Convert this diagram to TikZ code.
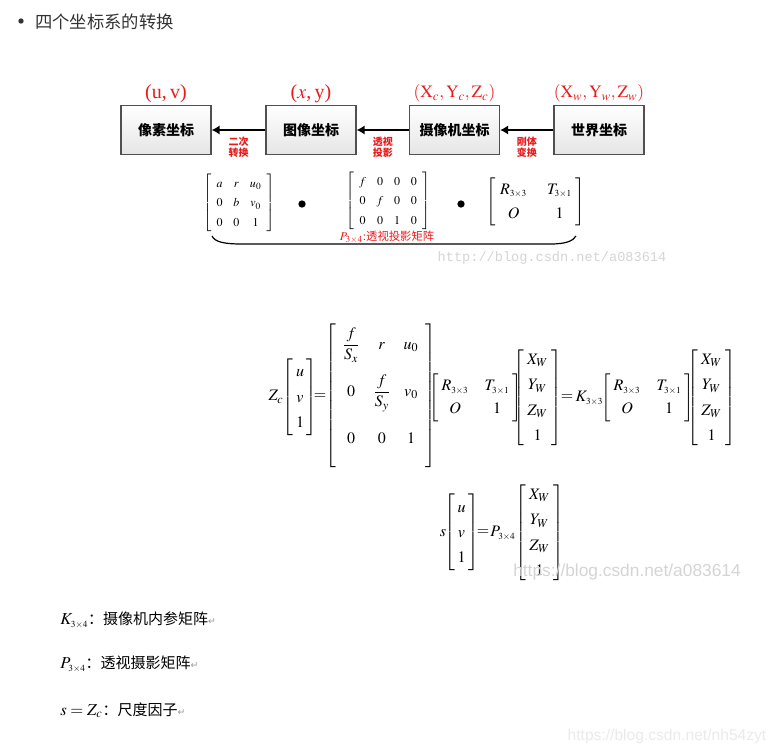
\documentclass[tikz,border=0pt]{standalone}
\usepackage{amsmath}
\usepackage{mathptmx}
\usepackage{fontspec}
\setmainfont{Liberation Serif}
\newfontfamily\cjk{Noto Sans CJK SC}
\newfontfamily\websans{Liberation Sans}
\newfontfamily\webmono{Liberation Mono}
\newfontfamily\symfont{DejaVu Sans}
\usetikzlibrary{positioning,arrows.meta}

\definecolor{boxline}{RGB}{80,80,80}
\definecolor{labelred}{RGB}{235,25,25}
\definecolor{headgray}{RGB}{51,51,51}
\definecolor{wmark}{RGB}{212,212,212}
\definecolor{wmarklight}{RGB}{234,234,234}

\newcommand{\matsp}[2]{\renewcommand{\arraystretch}{#1}\setlength{\arraycolsep}{#2}}
\newcommand{\msub}[2]{_{\text{\fontsize{7}{7}\selectfont$#1{\times}#2$}}}
\newcommand{\rowstrut}[2]{\rule[-#2]{0pt}{\dimexpr#1+#2\relax}}
\newcommand{\retmark}{{\symfont\color{gray!80}\fontsize{7}{7}\selectfont ↵}}

\begin{document}
\begin{tikzpicture}[x=0.75pt, y=-0.75pt, every node/.style={inner sep=0pt},
  coordbox/.style={draw=boxline, line width=0.9pt, top color=white, bottom color=gray!20,
    minimum width=67.5pt, minimum height=36.5pt, font=\cjk\bfseries\fontsize{10.5}{12}\selectfont},
  coordlabel/.style={text=labelred, font=\fontsize{15}{16}\selectfont},
  steplabel/.style={text=labelred, align=center, font=\cjk\bfseries\fontsize{7.5}{8.3}\selectfont},
  arrowline/.style={-{Latex[length=6pt,width=7pt]}, line width=2.2pt},
  bigdot/.style={circle, fill=black, minimum size=5.5pt},
  eqpart/.style={font=\fontsize{12}{14.4}\selectfont},
  smallmat/.style={font=\fontsize{9}{11}\selectfont},
  deftext/.style={anchor=west, font=\fontsize{12.5}{15}\selectfont}]
\useasboundingbox (0,0) rectangle (777,754);

% heading
\node[circle, fill=headgray, minimum size=4pt] (bullet) at (21,21) {};
\node[anchor=west, text=headgray, font=\cjk\fontsize{13}{15}\selectfont] (title) at (35,21.5) {四个坐标系的转换};

% the four coordinate systems
\node[coordbox] (pixel) at (166,130) {像素坐标};
\node[coordbox] (image) at (311,130) {图像坐标};
\node[coordbox] (camera) at (454.5,130) {摄像机坐标};
\node[coordbox] (world) at (599,130) {世界坐标};

\node[coordlabel, above=1.5pt of pixel] (uvlab) {(u,\,v)};
\node[coordlabel, above=1.5pt of image] (xylab) {($x$,\,y)};
\node[coordlabel, font=\fontsize{13}{14}\selectfont, above=2pt of camera] (camlab) {$(\mathrm{X}_c,\mathrm{Y}_c,\mathrm{Z}_c)$};
\node[coordlabel, font=\fontsize{13}{14}\selectfont, above=2pt of world] (worldlab) {$(\mathrm{X}_w,\mathrm{Y}_w,\mathrm{Z}_w)$};

\draw[arrowline] (image) -- node[steplabel, below=4pt] {二次\\转换} (pixel);
\draw[arrowline] (camera) -- node[steplabel, below=4pt] {透视\\投影} (image);
\draw[arrowline] (world) -- node[steplabel, below=4pt] {刚体\\变换} (camera);

% matrices under the boxes
\node[smallmat] (intrinsic) at (239,203) {\matsp{1.36}{4pt}$\left[\begin{array}{ccc} a & r & u_0\\ 0 & b & v_0\\ 0 & 0 & 1\end{array}\right]$};
\node[bigdot] (dotA) at (302,204) {};
\node[smallmat] (projection) at (388,201) {\matsp{1.36}{4pt}$\left[\begin{array}{cccc} f & 0 & 0 & 0\\ 0 & f & 0 & 0\\ 0 & 0 & 1 & 0\end{array}\right]$};
\node[bigdot] (dotB) at (461,204) {};
\node[eqpart] (extrinsic) at (536,201.5) {\matsp{1.3}{4pt}$\left[\begin{array}{@{\hspace{3pt}}c@{\hspace{15pt}}c@{\hspace{3pt}}} R\msub33 & T\msub31\\ O & 1\end{array}\right]$};

\draw[line width=0.9pt] (212,236) .. controls (215,242) and (224,244) .. (242,244) -- (550,244)
  .. controls (566,244) and (573,241) .. (576,236);
\node[text=labelred, font=\fontsize{9}{10}\selectfont] (plabel) at (387,237) {$P\msub34$:{\cjk\fontsize{8.5}{9}\selectfont 透视投影矩阵}};

\node[text=wmark, font=\webmono\fontsize{10.2}{12}\selectfont] (wmarkA) at (552,258) {http://blog.csdn.net/a083614};

% full projection equation
\node[eqpart] (zc) at (276,397) {$Z_c$};
\node[eqpart] (uvA) at (300,397) {\matsp{1.32}{2pt}$\left[\begin{array}{c} u\\ v\\ 1\end{array}\right]$};
\node[eqpart] (eqA) at (320,397) {$=$};
\node[eqpart] (kfull) at (380.5,396) {\matsp{0.01}{5pt}$\left[\begin{array}{ccc}
  \rowstrut{18.75pt}{14pt}\dfrac{f}{S_x} & r & u_0\\
  \rowstrut{21.25pt}{14pt}0 & \dfrac{f}{S_y} & v_0\\
  \rowstrut{21.25pt}{18.75pt}0 & 0 & 1\end{array}\right]$};
\node[eqpart] (rtA) at (475.5,397.5) {\matsp{1.18}{4pt}$\left[\begin{array}{@{\hspace{2pt}}c@{\hspace{12pt}}c@{\hspace{2pt}}} R\msub33 & T\msub31\\ O & 1\end{array}\right]$};
\node[eqpart] (xwA) at (537.5,397.5) {\matsp{1.32}{2.5pt}$\left[\begin{array}{c} X_W\\ Y_W\\ Z_W\\ 1\end{array}\right]$};
\node[eqpart] (eqB) at (567,398) {$=$};
\node[eqpart] (kshort) at (589.5,398) {$K\msub33$};
\node[eqpart] (rtB) at (647.5,397.5) {\matsp{1.18}{4pt}$\left[\begin{array}{@{\hspace{2pt}}c@{\hspace{12pt}}c@{\hspace{2pt}}} R\msub33 & T\msub31\\ O & 1\end{array}\right]$};
\node[eqpart] (xwB) at (711.5,397.5) {\matsp{1.32}{2.5pt}$\left[\begin{array}{c} X_W\\ Y_W\\ Z_W\\ 1\end{array}\right]$};

% short form
\node[eqpart] (sfac) at (443,533) {$s$};
\node[eqpart] (uvB) at (461.5,532.5) {\matsp{1.32}{2pt}$\left[\begin{array}{c} u\\ v\\ 1\end{array}\right]$};
\node[eqpart] (eqC) at (483,533) {$=$};
\node[eqpart] (pshort) at (503,533) {$P\msub34$};
\node[eqpart] (xwC) at (539.5,532.5) {\matsp{1.32}{2.5pt}$\left[\begin{array}{c} X_W\\ Y_W\\ Z_W\\ 1\end{array}\right]$};

\node[text=wmark, font=\websans\fontsize{13}{15}\selectfont] (wmarkB) at (627,572) {https://blog.csdn.net/a083614};

% definitions
\node[deftext] (defK) at (60,620) {$K\msub34${\cjk\fontsize{11.25}{13}\selectfont ：摄像机内参矩阵}\retmark};
\node[deftext] (defP) at (60,664) {$P\msub34${\cjk\fontsize{11.25}{13}\selectfont ：透视摄影矩阵}\retmark};
\node[deftext] (defS) at (60,710) {$s=Z_c${\cjk\fontsize{11.25}{13}\selectfont ：尺度因子}\retmark};

\node[text=wmarklight, font=\websans\fontsize{11.7}{13}\selectfont] (wmarkC) at (667,736) {https://blog.csdn.net/nh54zyt};
\end{tikzpicture}
\end{document}
